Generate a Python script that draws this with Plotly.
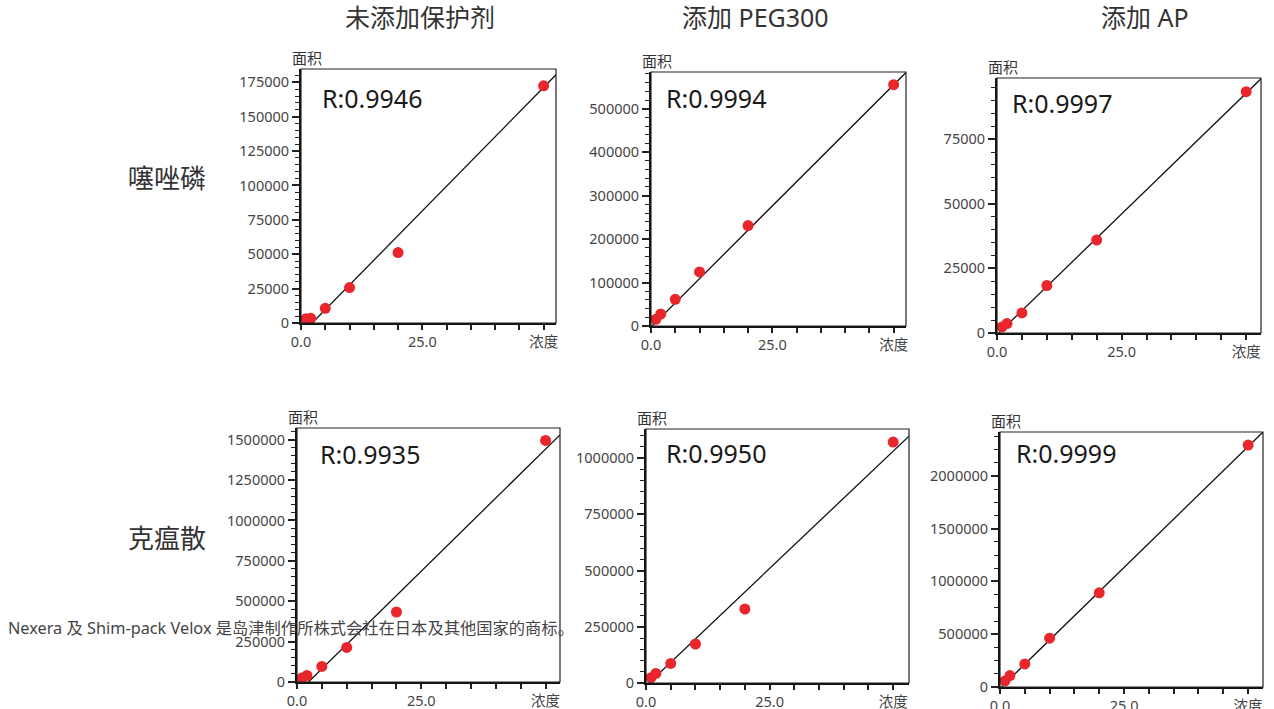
import plotly.graph_objects as go

# ---------------- data ----------------
col_titles = ["未添加保护剂", "添加 PEG300", "添加 AP"]
row_titles = ["噻唑磷", "克瘟散"]
concentration = [1, 2, 5, 10, 20, 50]

area_p1 = [3000, 3400, 10700, 25800, 51200, 172500]
area_p2 = [15400, 27600, 61500, 124400, 231100, 555300]
area_p3 = [2330, 3650, 7760, 18380, 35950, 93350]
area_p4 = [24800, 40900, 96600, 214200, 433300, 1495500]
area_p5 = [23600, 42700, 87100, 173300, 328900, 1071000]
area_p6 = [57000, 108200, 218300, 462300, 892400, 2291700]
areas = [area_p1, area_p2, area_p3, area_p4, area_p5, area_p6]

r_values = ["R:0.9946", "R:0.9994", "R:0.9997", "R:0.9935", "R:0.9950", "R:0.9999"]
fit_slope = [3592, 11150, 1870, 30225, 20860, 45800]
fit_intercept = [-8262, -2500, -700, -69500, -12500, -12800]

x_tick_vals = [0, 25, 50]
x_tick_text = ["0.0", "25.0", "浓度"]
y_dtick = [25000, 100000, 25000, 250000, 250000, 500000]
y_minor = [5000, 20000, 5000, 50000, 50000, 125000]
x_max = [52.55, 52.55, 52.97, 52.9, 53.2, 53.0]
y_max = [184700, 584500, 98650, 1572300, 1128900, 2415000]
footnote = "Nexera 及 Shim-pack Velox 是岛津制作所株式会社在日本及其他国家的商标。"

# ---------------- layout (pixel boxes) ----------------
W, H = 1274, 709
boxes = [  # left, top, right, bottom in px
    (301, 69, 556, 323),
    (651, 72, 906, 326),
    (997, 78, 1261, 333),
    (297, 428, 560, 682),
    (646, 429, 909, 683),
    (1000, 432, 1263, 687),
]
r_offsets = [(19, 29), (13, 26), (13, 25), (21, 26), (18, 24), (14, 21)]

FONT = "Noto Sans, Noto Sans CJK SC, sans-serif"
fig = go.Figure()
annotations = []
shapes = []

for i in range(6):
    ax = "" if i == 0 else str(i + 1)
    xa, ya = "x" + ax, "y" + ax
    l, t, r, b = boxes[i]
    xs = concentration
    ys = areas[i]
    line_x = [0, x_max[i]]
    line_y = [fit_slope[i] * v + fit_intercept[i] for v in line_x]
    fig.add_trace(go.Scatter(x=line_x, y=line_y, mode="lines",
                             line=dict(color="#111111", width=1.3),
                             xaxis=xa, yaxis=ya, showlegend=False, hoverinfo="skip"))
    fig.add_trace(go.Scatter(x=xs, y=ys, mode="markers",
                             marker=dict(color="#e8262b", size=11, line=dict(width=0)),
                             cliponaxis=False, xaxis=xa, yaxis=ya, showlegend=False))
    axis_common = dict(showgrid=False, zeroline=False, showline=True, automargin=False,
                       linecolor="#111111", linewidth=2,
                       tickfont=dict(family=FONT, size=14.5, color="#444444"),
                       ticks="outside", tickcolor="#222222", tickwidth=1.5)
    fig.layout["xaxis" + ax] = dict(
        domain=[l / W, r / W], anchor=ya, range=[0, x_max[i]],
        tickmode="array", tickvals=x_tick_vals, ticktext=x_tick_text, ticklen=5,
        minor=dict(tickmode="linear", tick0=0, dtick=5, ticks="outside",
                   ticklen=5, tickcolor="#222222", tickwidth=1.5),
        **axis_common)
    fig.layout["yaxis" + ax] = dict(
        domain=[1 - b / H, 1 - t / H], anchor=xa, range=[0, y_max[i]],
        tickmode="linear", tick0=0, dtick=y_dtick[i], tickformat="d", ticklen=7,
        minor=dict(tickmode="linear", tick0=0, dtick=y_minor[i], ticks="outside",
                   ticklen=4, tickcolor="#222222", tickwidth=1.2),
        **axis_common)
    shapes.append(dict(type="rect", xref=xa + " domain", yref=ya + " domain",
                       x0=0, x1=1, y0=0, y1=1, line=dict(color="#222222", width=1.2),
                       layer="above"))
    annotations.append(dict(text="面积", xref=xa + " domain", yref=ya + " domain",
                            x=0, y=1, xanchor="center", yanchor="bottom",
                            xshift=6, yshift=-1, showarrow=False,
                            font=dict(family=FONT, size=15, color="#333333")))
    ox, oy = r_offsets[i]
    annotations.append(dict(text=r_values[i], xref="paper", yref="paper",
                            x=(l + ox) / W, y=1 - (t + oy) / H,
                            xanchor="left", yanchor="middle", showarrow=False,
                            font=dict(family=FONT, size=25, color="#1a1a1a")))

title_centers = [(420, 17), (755, 17), (1145, 17)]
for txt, (cx, cy) in zip(col_titles, title_centers):
    annotations.append(dict(text=txt, xref="paper", yref="paper", x=cx / W, y=1 - cy / H,
                            xanchor="center", yanchor="middle", showarrow=False,
                            font=dict(family=FONT, size=25, color="#333333")))
row_centers = [(167, 178), (167, 538)]
for txt, (cx, cy) in zip(row_titles, row_centers):
    annotations.append(dict(text=txt, xref="paper", yref="paper", x=cx / W, y=1 - cy / H,
                            xanchor="center", yanchor="middle", showarrow=False,
                            font=dict(family=FONT, size=26, color="#333333")))
annotations.append(dict(text=footnote, xref="paper", yref="paper", x=6 / W, y=1 - 628 / H,
                        xanchor="left", yanchor="middle", showarrow=False,
                        font=dict(family=FONT, size=16.3, color="#444444")))

fig.update_layout(width=W, height=H, margin=dict(l=0, r=0, t=0, b=0, autoexpand=False),
                  paper_bgcolor="white", plot_bgcolor="white",
                  annotations=annotations, shapes=shapes, showlegend=False)
fig.write_html("out.html")
